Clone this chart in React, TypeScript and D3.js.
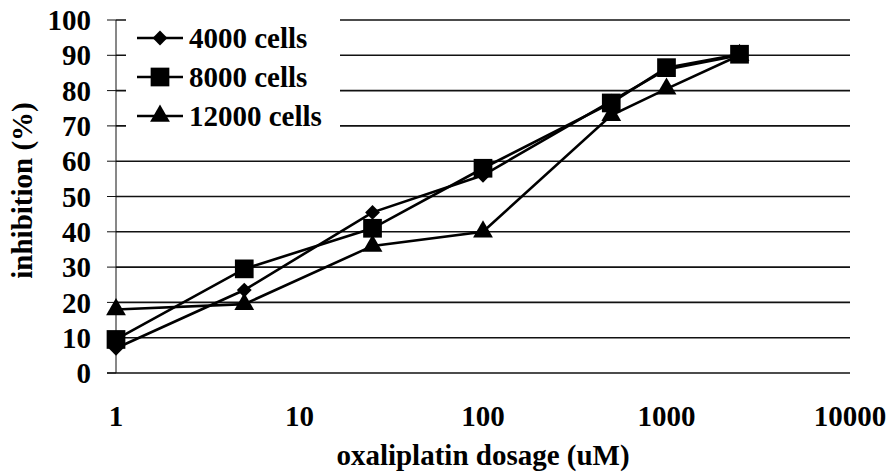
import * as d3 from 'd3'
import { useEffect, useRef } from 'react'

const width = 894, height = 476
const margin = { top: 20, right: 44, bottom: 103, left: 116 }

const dosages = [1, 5, 25, 100, 500, 1000, 2500]
const cells4000 = [7, 23.5, 45.5, 56, 77, 86, 90]
const cells8000 = [9.5, 29.5, 41, 58, 76.5, 86.5, 90.3]
const cells12000 = [18, 19.5, 36, 40, 73, 80.5, 90]
const seriesNames = ['4000 cells', '8000 cells', '12000 cells']
const yTicks = [0, 10, 20, 30, 40, 50, 60, 70, 80, 90, 100]
const xTicks = [1, 10, 100, 1000, 10000]

const font = '"Liberation Serif", "Times New Roman", serif'

const chart = (svgNode: SVGSVGElement) => {
  const svg = d3.select(svgNode)
  svg.selectAll('*').remove()

  const x = d3.scaleLog().domain([1, 10000]).range([margin.left, width - margin.right])
  const y = d3.scaleLinear().domain([0, 100]).range([height - margin.bottom, margin.top])

  const g = svg.append('g')
    .attr('font-family', font)
    .attr('font-weight', 'bold')
    .attr('font-size', 29)

  // gridlines
  g.append('g')
    .attr('stroke', '#111')
    .attr('stroke-width', 1.6)
    .selectAll('line')
    .data(yTicks)
    .join('line')
    .attr('x1', d => d === 0 ? x(1) - 9 : x(1))
    .attr('x2', x(10000))
    .attr('y1', d => y(d))
    .attr('y2', d => y(d))

  // tick marks
  g.append('g')
    .attr('stroke', '#111')
    .attr('stroke-width', 1)
    .selectAll('line')
    .data(yTicks)
    .join('line')
    .attr('x1', x(1) - 9)
    .attr('x2', x(1))
    .attr('y1', d => y(d))
    .attr('y2', d => y(d))

  // y axis line
  g.append('line')
    .attr('stroke', '#111')
    .attr('stroke-width', 1)
    .attr('x1', x(1)).attr('x2', x(1))
    .attr('y1', y(0)).attr('y2', y(100))

  g.append('g')
    .selectAll('text')
    .data(yTicks)
    .join('text')
    .attr('x', x(1) - 25)
    .attr('y', d => y(d))
    .attr('dy', '0.35em')
    .attr('text-anchor', 'end')
    .text(d => d)

  g.append('g')
    .selectAll('text')
    .data(xTicks)
    .join('text')
    .attr('x', d => x(d))
    .attr('y', 416)
    .attr('dy', '0.35em')
    .attr('text-anchor', 'middle')
    .text(d => d)

  g.append('text')
    .attr('x', (x(1) + x(10000)) / 2)
    .attr('y', 455)
    .attr('dy', '0.35em')
    .attr('text-anchor', 'middle')
    .text('oxaliplatin dosage (uM)')

  g.append('text')
    .attr('transform', `translate(22,${y(50) - 6}) rotate(-90)`)
    .attr('dy', '0.35em')
    .attr('text-anchor', 'middle')
    .text('inhibition (%)')

  const diamond = d3.symbol().type(d3.symbolDiamond2).size(140)
  const square = d3.symbol().type(d3.symbolSquare).size(350)
  const triangle = d3.symbol().type(d3.symbolTriangle).size(170)
  const symbols = [diamond, square, triangle]
  const allSeries = [cells4000, cells8000, cells12000]

  const line = d3.line<number>()
    .x((_, i) => x(dosages[i]))
    .y(d => y(d))

  allSeries.forEach((values) => {
    g.append('path')
      .datum(values)
      .attr('fill', 'none')
      .attr('stroke', '#000')
      .attr('stroke-width', 2.6)
      .attr('d', line)
  })
  allSeries.forEach((values, s) => {
    g.append('g')
      .selectAll('path')
      .data(values)
      .join('path')
      .attr('transform', (d, i) => `translate(${x(dosages[i])},${y(d)})`)
      .attr('d', symbols[s]())
      .attr('fill', '#000')
  })

  // legend
  const legend = g.append('g')
  legend.append('rect')
    .attr('x', 126).attr('y', 14)
    .attr('width', 214).attr('height', 122)
    .attr('fill', '#fff')
  const rows = [38, 77, 116]
  seriesNames.forEach((name, s) => {
    const ly = rows[s]
    legend.append('line')
      .attr('x1', 137).attr('x2', 183)
      .attr('y1', ly).attr('y2', ly)
      .attr('stroke', '#000').attr('stroke-width', 2.6)
    legend.append('path')
      .attr('transform', `translate(160,${ly})`)
      .attr('d', symbols[s]())
      .attr('fill', '#000')
    legend.append('text')
      .attr('x', 189)
      .attr('y', ly)
      .attr('dy', '0.35em')
      .text(name)
  })
}

export default function App() {
  const ref = useRef<SVGSVGElement>(null)
  useEffect(() => {
    if (ref.current) chart(ref.current)
  }, [])
  return <svg ref={ref} width={width} height={height} style={{ display: 'block', position: 'absolute', left: 0, top: 0 }} />
}
